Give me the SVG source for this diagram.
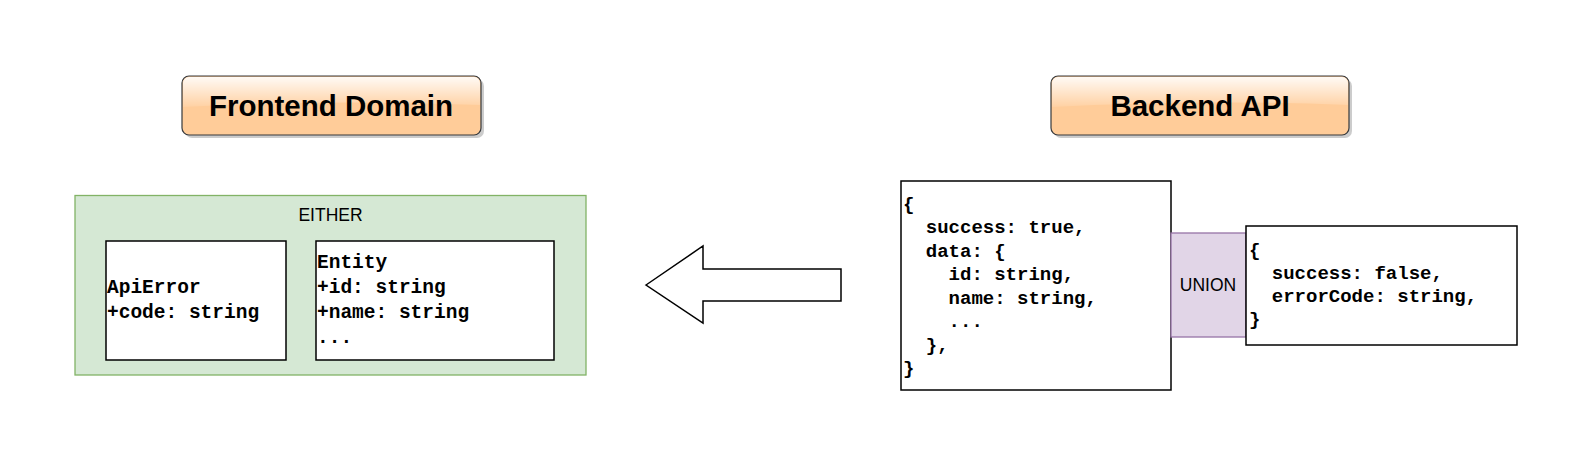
<svg xmlns="http://www.w3.org/2000/svg" width="1592" height="467" viewBox="0 0 1592 467">
<style>
.mono{font-family:"Liberation Mono","Courier New",monospace;font-weight:bold;fill:#000}
.sans{font-family:"Liberation Sans",Arial,Helvetica,sans-serif;fill:#000}
.title{font-family:"Liberation Sans",Arial,Helvetica,sans-serif;font-weight:bold;font-size:29.5px;fill:#000;text-anchor:middle}
.box{fill:#fff;stroke:#000;stroke-width:1.5}
.btn{fill:#FFCC99;stroke:#36393d;stroke-width:1.2}
.shadow{fill:#000;opacity:0.2}
</style>
<defs>
<linearGradient id="glass" x1="0" y1="0" x2="0" y2="1">
<stop offset="0" stop-color="#fff" stop-opacity="0.9"/>
<stop offset="1" stop-color="#fff" stop-opacity="0.1"/>
</linearGradient>
</defs>
<rect width="1592" height="467" fill="#fff"/>

<g id="frontend-title">
<rect class="shadow" x="185" y="79" width="299" height="59" rx="7"/>
<rect class="btn" x="182" y="76" width="299" height="59" rx="7"/>
<path d="M183,83 a6,6 0 0 1 6,-6 h285 a6,6 0 0 1 6,6 v22 q-149,-6 -297,2 z" fill="url(#glass)"/>
<text class="title" x="331" y="115.5">Frontend Domain</text>
</g>

<g id="backend-title">
<rect class="shadow" x="1054" y="79" width="298" height="59" rx="7"/>
<rect class="btn" x="1051" y="76" width="298" height="59" rx="7"/>
<path d="M1052,83 a6,6 0 0 1 6,-6 h284 a6,6 0 0 1 6,6 v22 q-148,-6 -296,2 z" fill="url(#glass)"/>
<text class="title" x="1200" y="115.5">Backend API</text>
</g>

<g id="either">
<rect x="75" y="195.5" width="511" height="179.5" fill="#d5e8d4" stroke="#82b366" stroke-width="1.3"/>
<text class="sans" x="330.5" y="221" font-size="17.5" text-anchor="middle">EITHER</text>
</g>

<g id="api-error">
<rect class="box" x="106" y="241" width="180" height="119"/>
<text class="mono" font-size="19.5" x="107" y="293">ApiError</text>
<text class="mono" font-size="19.5" x="107" y="318">+code: string</text>
</g>

<g id="entity">
<rect class="box" x="316" y="241" width="238" height="119"/>
<text class="mono" font-size="19.5" x="317" y="268">Entity</text>
<text class="mono" font-size="19.5" x="317" y="293">+id: string</text>
<text class="mono" font-size="19.5" x="317" y="318">+name: string</text>
<text class="mono" font-size="19.5" x="317" y="342.5">...</text>
</g>

<g id="connectors">
<polygon points="646,285 703,246 703,269 841,269 841,301 703,301 703,323" fill="#fff" stroke="#000" stroke-width="1.5" stroke-linejoin="miter"/>
</g>

<g id="success-response">
<rect class="box" x="901" y="181" width="270" height="209"/>
<text class="mono" font-size="19" xml:space="preserve"><tspan x="903" y="209.5">{</tspan><tspan x="903" y="233">  success: true,</tspan><tspan x="903" y="256.5">  data: {</tspan><tspan x="903" y="280">    id: string,</tspan><tspan x="903" y="303.5">    name: string,</tspan><tspan x="903" y="327">    ...</tspan><tspan x="903" y="350.5">  },</tspan><tspan x="903" y="374">}</tspan></text>
</g>

<g id="union">
<rect x="1171" y="233" width="75" height="104" fill="#e1d5e7" stroke="#9673a6" stroke-width="1.3"/>
<text class="sans" x="1208" y="291" font-size="17.5" text-anchor="middle">UNION</text>
</g>

<g id="error-response">
<rect class="box" x="1246" y="226" width="271" height="119"/>
<text class="mono" font-size="19" xml:space="preserve"><tspan x="1249" y="256">{</tspan><tspan x="1249" y="279">  success: false,</tspan><tspan x="1249" y="302">  errorCode: string,</tspan><tspan x="1249" y="325">}</tspan></text>
</g>
</svg>
